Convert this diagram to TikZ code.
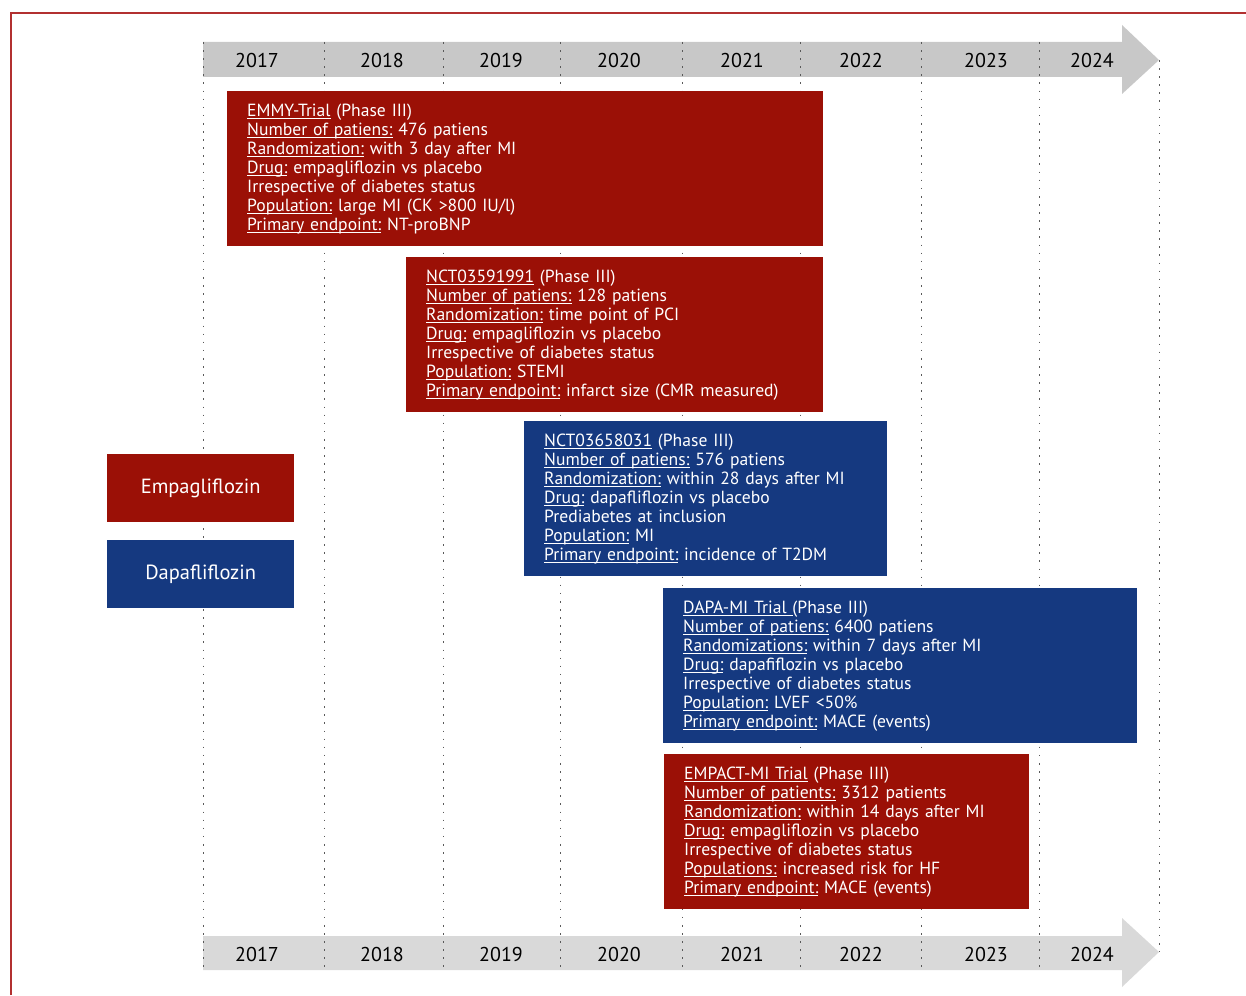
\documentclass[tikz,border=0pt]{standalone}
\usepackage{fontspec}
\setmainfont{PT Sans}
\definecolor{trialred}{RGB}{155,16,6}
\definecolor{trialblue}{RGB}{21,57,128}
\definecolor{topgray}{RGB}{200,200,200}
\definecolor{botgray}{RGB}{217,217,217}
\definecolor{framered}{RGB}{178,48,48}
\newcommand{\ulx}[1]{\leavevmode\setbox0\hbox{#1}\rlap{\rule[-2.6pt]{\wd0}{0.9pt}}\box0\relax}
\tikzset{
  trial/.style={anchor=north west, text=white, align=left, inner xsep=20pt, inner ysep=0pt,
    font=\fontsize{17.6}{19}\selectfont, minimum height=155pt},
  redtrial/.style={trial, fill=trialred},
  bluetrial/.style={trial, fill=trialblue},
  drugbox/.style={anchor=north west, text=white, minimum width=187pt, minimum height=68pt,
    inner sep=0pt, font=\fontsize{20.5}{22}\selectfont},
  year/.style={font=\fontsize{20}{22}\selectfont, text=black},
  gridline/.style={gray!70!black, line width=1pt, dash pattern=on 1.6pt off 6.5pt}
}
\begin{document}
\begin{tikzpicture}[x=1pt,y=-1pt]
\useasboundingbox (0,0) rectangle (1246,995);
% frame
\draw[framered, line width=1.4pt] (11,995) -- (11,13) -- (1246,13);
% timeline arrows
\fill[topgray] (203,42) -- (1122,42) -- (1122,25) -- (1159,60) -- (1122,94) -- (1122,77) -- (203,77) -- cycle;
\fill[botgray] (203,936) -- (1122,936) -- (1122,918) -- (1159,952) -- (1122,987) -- (1122,970) -- (203,970) -- cycle;
% grid lines
\foreach \gx in {203,324,443,560,682,800,921,1039}
  \draw[gridline] (\gx,42) -- (\gx,970);
\draw[gridline] (1159,60) -- (1159,952);
% years
\foreach \yr/\yx in {2017/257,2018/382,2019/501,2020/619,2021/742,2022/861,2023/986,2024/1092}{
  \node[year] (top\yr) at (\yx,61) {\yr};
  \node[year] (bot\yr) at (\yx,954) {\yr};
}
% drug legend
\node[drugbox, fill=trialred] (empa) at (107,454) {Empagliflozin};
\node[drugbox, fill=trialblue] (dapa) at (107,540) {Dapafliflozin};
% trials
\node[redtrial, minimum width=596pt, text width=556pt] (emmy) at (227,91) {%
\ulx{EMMY-Trial} (Phase III)\\
\ulx{Number of patiens:} 476 patiens\\
\ulx{Randomization:} with 3 day after MI\\
\ulx{Drug:} empagliflozin vs placebo\\
Irrespective of diabetes status\\
\ulx{Population:} large MI (CK >800 IU/l)\\
\ulx{Primary endpoint:} NT-proBNP};
\node[redtrial, minimum width=417pt, text width=377pt] (nct1) at (406,257) {%
\ulx{NCT03591991} (Phase III)\\
\ulx{Number of patiens:} 128 patiens\\
\ulx{Randomization:} time point of PCI\\
\ulx{Drug:} empagliflozin vs placebo\\
Irrespective of diabetes status\\
\ulx{Population:} STEMI\\
\ulx{Primary endpoint:} infarct size (CMR measured)};
\node[bluetrial, minimum width=363pt, text width=323pt] (nct2) at (524,421) {%
\ulx{NCT03658031} (Phase III)\\
\ulx{Number of patiens:} 576 patiens\\
\ulx{Randomization:} within 28 days after MI\\
\ulx{Drug:} dapafliflozin vs placebo\\
Prediabetes at inclusion\\
\ulx{Population:} MI\\
\ulx{Primary endpoint:} incidence of T2DM};
\node[bluetrial, minimum width=474pt, text width=434pt] (dapami) at (663,588) {%
\ulx{DAPA-MI Trial }(Phase III)\\
\ulx{Number of patiens:} 6400 patiens\\
\ulx{Randomizations:} within 7 days after MI\\
\ulx{Drug:} dapafiflozin vs placebo\\
Irrespective of diabetes status\\
\ulx{Population:} LVEF <50\%\\
\ulx{Primary endpoint:} MACE (events)};
\node[redtrial, minimum width=365pt, text width=325pt] (empact) at (664,754) {%
\ulx{EMPACT-MI Trial} (Phase III)\\
\ulx{Number of patients:} 3312 patients\\
\ulx{Randomization:} within 14 days after MI\\
\ulx{Drug:} empagliflozin vs placebo\\
Irrespective of diabetes status\\
\ulx{Populations:} increased risk for HF\\
\ulx{Primary endpoint:} MACE (events)};
\end{tikzpicture}
\end{document}
